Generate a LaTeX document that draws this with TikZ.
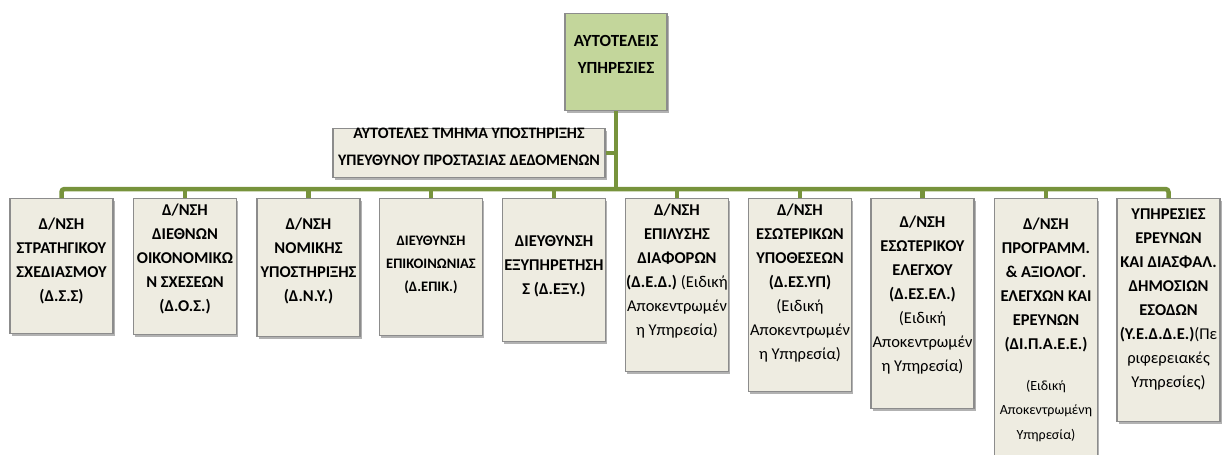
\documentclass[tikz,border=0pt]{standalone}
\usepackage{fontspec}
\setmainfont{Carlito}
\usetikzlibrary{shadows}
\definecolor{boxfill}{HTML}{EEECE1}
\definecolor{boxline}{HTML}{8C8C8C}
\definecolor{topfill}{HTML}{C3D69B}
\definecolor{conn}{HTML}{77933C}
\begin{document}
\begin{tikzpicture}[x=1pt,y=-1pt,
  unitbox/.style={draw=boxline, fill=boxfill, line width=1.1pt, minimum width=103pt,
    anchor=north, inner sep=0pt,
    drop shadow={shadow xshift=1.5pt, shadow yshift=-2.5pt, fill=black, opacity=0.3}},
  headbox/.style={unitbox, fill=topfill},
  lbl/.style={anchor=north, align=center, inner sep=0pt,
    font=\bfseries\fontsize{16.5}{24}\selectfont},
  smalllbl/.style={lbl, font=\mdseries\fontsize{14}{24.5}\selectfont},
  conn/.style={draw=conn, line width=4.5pt},
]
\useasboundingbox (0,0) rectangle (1224,455);

% head
\node[headbox, minimum width=102pt, minimum height=97pt] (top) at (616,13) {};
\node[lbl, font=\bfseries\fontsize{17}{27}\selectfont] (toptxt) at (616,35.5) {ΑΥΤΟΤΕΛΕΙΣ\\ΥΠΗΡΕΣΙΕΣ};

% subsidiary
\node[unitbox, minimum width=272pt, minimum height=49pt] (sub) at (469,128) {};
\node[lbl, font=\bfseries\fontsize{16}{27}\selectfont] (subtxt) at (469,127.5) {ΑΥΤΟΤΕΛΕΣ ΤΜΗΜΑ ΥΠΟΣΤΗΡΙΞΗΣ\\ΥΠΕΥΘΥΝΟΥ ΠΡΟΣΤΑΣΙΑΣ ΔΕΔΟΜΕΝΩΝ};

% unit boxes
\node[unitbox, minimum height=135pt] (b1) at (61.5,198) {};
\node[unitbox, minimum height=136pt] (b2) at (185,198) {};
\node[unitbox, minimum height=138pt] (b3) at (308.5,198) {};
\node[unitbox, minimum height=137pt] (b4) at (431,198) {};
\node[unitbox, minimum height=143pt] (b5) at (554,198) {};
\node[unitbox, minimum height=173pt] (b6) at (677,198) {};
\node[unitbox, minimum height=193pt] (b7) at (800,198) {};
\node[unitbox, minimum height=210pt] (b8) at (922.5,198) {};
\node[unitbox, minimum height=272pt] (b9) at (1046,198) {};
\node[unitbox, minimum height=223pt] (b10) at (1168.5,198) {};

% texts
\node[lbl] (t1) at (61.5,218) {Δ/ΝΣΗ\\ΣΤΡΑΤΗΓΙΚΟΥ\\ΣΧΕΔΙΑΣΜΟΥ\\(Δ.Σ.Σ)};
\node[lbl] (t2) at (185,204) {Δ/ΝΣΗ\\ΔΙΕΘΝΩΝ\\ΟΙΚΟΝΟΜΙΚΩ\\Ν ΣΧΕΣΕΩΝ\\(Δ.Ο.Σ.)};
\node[lbl] (t3) at (308.5,218) {Δ/ΝΣΗ\\ΝΟΜΙΚΗΣ\\ΥΠΟΣΤΗΡΙΞΗΣ\\(Δ.Ν.Υ.)};
\node[lbl, font=\bfseries\fontsize{14.5}{23}\selectfont] (t4) at (431,236) {ΔΙΕΥΘΥΝΣΗ\\ΕΠΙΚΟΙΝΩΝΙΑΣ\\(Δ.ΕΠΙΚ.)};
\node[lbl] (t5) at (554,235) {ΔΙΕΥΘΥΝΣΗ\\ΕΞΥΠΗΡΕΤΗΣΗ\\Σ (Δ.ΕΞΥ.)};
\node[lbl] (t6) at (677,204) {Δ/ΝΣΗ\\ΕΠΙΛΥΣΗΣ\\ΔΙΑΦΟΡΩΝ\\(Δ.Ε.Δ.) {\mdseries (Ειδική}\\{\mdseries Αποκεντρωμέν}\\{\mdseries η Υπηρεσία)}};
\node[lbl] (t7) at (800,204) {Δ/ΝΣΗ\\ΕΣΩΤΕΡΙΚΩΝ\\ΥΠΟΘΕΣΕΩΝ\\(Δ.ΕΣ.ΥΠ)\\{\mdseries (Ειδική}\\{\mdseries Αποκεντρωμέν}\\{\mdseries η Υπηρεσία)}};
\node[lbl] (t8) at (922.5,216) {Δ/ΝΣΗ\\ΕΣΩΤΕΡΙΚΟΥ\\ΕΛΕΓΧΟΥ\\(Δ.ΕΣ.ΕΛ.)\\{\mdseries (Ειδική}\\{\mdseries Αποκεντρωμέν}\\{\mdseries η Υπηρεσία)}};
\node[lbl] (t9) at (1046,218) {Δ/ΝΣΗ\\ΠΡΟΓΡΑΜΜ.\\\&\ ΑΞΙΟΛΟΓ.\\ΕΛΕΓΧΩΝ ΚΑΙ\\ΕΡΕΥΝΩΝ\\(ΔΙ.Π.Α.Ε.Ε.)};
\node[smalllbl] (t9b) at (1046,380) {(Ειδική\\Αποκεντρωμένη\\Υπηρεσία)};
\node[lbl] (t10) at (1168.5,209) {ΥΠΗΡΕΣΙΕΣ\\ΕΡΕΥΝΩΝ\\ΚΑΙ ΔΙΑΣΦΑΛ.\\ΔΗΜΟΣΙΩΝ\\ΕΣΟΔΩΝ\\(Υ.Ε.Δ.Δ.Ε.){\mdseries(Πε}\\{\mdseries ριφερειακές}\\{\mdseries Υπηρεσίες)}};

% connectors
\coordinate (J) at (616,189);
\draw[conn] (top.south) -- (J);
\draw[conn] (sub.east) -- (sub.east -| J);
\draw[conn, rounded corners=3pt] (b1.north) |- (J) -| (b10.north);
\foreach \b in {b2,b3,b4,b5,b6,b7,b8,b9} \draw[conn] (\b.north) -- (\b.north |- J);
\end{tikzpicture}
\end{document}
